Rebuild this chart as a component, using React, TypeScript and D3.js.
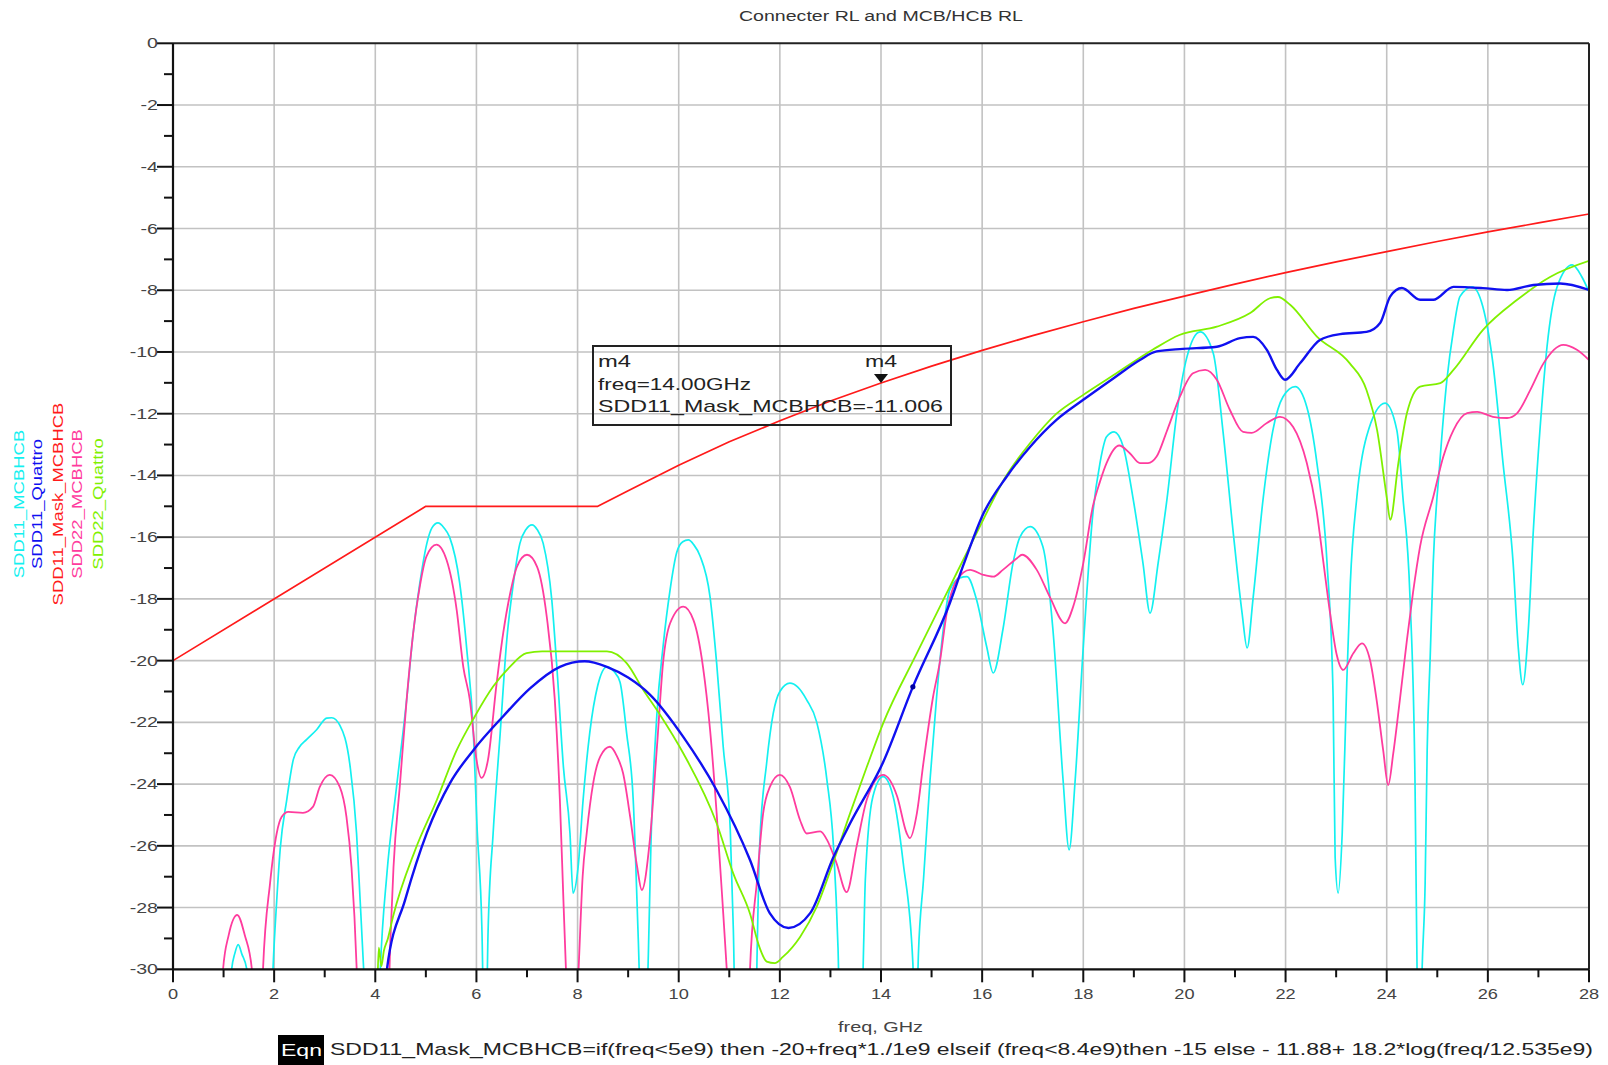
import React from 'react';
import * as d3 from 'd3';

type P = [number, number];

const X_TICKS = [0, 2, 4, 6, 8, 10, 12, 14, 16, 18, 20, 22, 24, 26, 28];
const Y_TICKS = [0, -2, -4, -6, -8, -10, -12, -14, -16, -18, -20, -22, -24, -26, -28, -30];

const TITLE = 'Connecter RL and MCB/HCB RL';
const X_LABEL = 'freq, GHz';
const EQN = 'SDD11_Mask_MCBHCB=if(freq<5e9) then -20+freq*1./1e9 elseif (freq<8.4e9)then -15 else - 11.88+ 18.2*log(freq/12.535e9)';

const SERIES_NAMES = ['SDD11_MCBHCB', 'SDD11_Quattro', 'SDD11_Mask_MCBHCB', 'SDD22_MCBHCB', 'SDD22_Quattro'];

const maskPts: P[] = [
  [0, -20], [5, -15], [8.4, -15], [9, -14.5], [10, -13.67], [11, -12.91], [12, -12.23],
  [13, -11.59], [14, -11.006], [15, -10.46], [16, -9.95], [17, -9.47], [18, -9.02], [19, -8.59],
  [20, -8.19], [21, -7.8], [22, -7.43], [23, -7.08], [24, -6.75], [25, -6.42], [26, -6.11], [27, -5.82], [28, -5.53],
];

const sdd11Mcb: P[] = [
  [1.05, -34], [1.16, -30], [1.22, -29.5], [1.29, -29.2], [1.36, -29.5], [1.46, -30], [1.6, -34],
  [1.9, -34], [1.98, -29.9], [2.05, -27.8], [2.12, -26.1], [2.25, -24.5], [2.38, -23.2], [2.5, -22.8],
  [2.64, -22.56], [2.84, -22.24], [3.04, -21.86], [3.14, -21.85], [3.3, -22.1], [3.5, -23.4], [3.63, -25.6],
  [3.7, -27.75], [3.77, -30], [3.9, -35],
  [4.02, -34], [4.1, -30], [4.23, -26.9], [4.42, -24.1], [4.62, -21.27], [4.75, -19.1], [4.88, -17.5],
  [5.02, -16.2], [5.12, -15.7], [5.24, -15.54], [5.36, -15.7], [5.47, -16.0], [5.67, -17.5], [5.81, -19.65],
  [5.94, -22.35], [6.01, -25.3], [6.11, -28.8], [6.17, -34], [6.23, -28.8], [6.33, -25.6], [6.47, -22.35],
  [6.6, -19.33], [6.73, -17.5], [6.86, -16.2], [6.98, -15.75], [7.1, -15.6], [7.2, -15.75], [7.32, -16.2],
  [7.49, -18.03], [7.59, -20.2], [7.72, -23.44], [7.85, -25.6], [7.91, -27.53], [8.01, -26.7], [8.11, -24.5],
  [8.24, -22.35], [8.4, -20.8], [8.58, -20.2], [8.72, -20.35], [8.84, -20.7], [8.97, -22.35], [9.1, -24.5],
  [9.2, -29], [9.3, -34], [9.4, -29.5], [9.45, -26], [9.57, -21.7], [9.69, -19.55], [9.83, -17.7],
  [9.96, -16.5], [10.08, -16.15], [10.19, -16.09], [10.3, -16.25], [10.42, -16.6], [10.62, -17.94],
  [10.75, -20.08], [10.88, -22.79], [11.02, -25.5], [11.08, -28.7], [11.15, -34],
  [11.5, -34], [11.55, -29.5], [11.6, -26.0], [11.74, -23.3], [11.87, -21.7], [12.0, -21.0], [12.2, -20.73],
  [12.35, -20.85], [12.53, -21.27], [12.73, -22.0], [12.93, -23.86], [13.06, -26.0], [13.15, -29.3], [13.22, -34],
  [13.58, -34], [13.66, -29], [13.69, -27.1], [13.84, -24.4], [14.04, -23.76], [14.24, -24.4], [14.44, -26.56],
  [14.63, -29.8], [14.68, -33], [14.74, -29.5], [14.84, -27.1], [14.97, -23.86], [15.1, -21.17], [15.23, -19.0],
  [15.36, -17.71], [15.56, -17.32], [15.7, -17.28], [15.89, -18.03], [16.09, -19.55], [16.22, -20.4],
  [16.41, -19.0], [16.61, -16.84], [16.75, -15.99], [16.95, -15.66], [17.2, -16.3], [17.4, -19.0],
  [17.6, -23.86], [17.72, -26.13], [17.84, -23.86], [18.0, -19.55], [18.19, -15.22], [18.33, -13.6],
  [18.46, -12.75], [18.61, -12.59], [18.79, -13.07], [18.98, -14.7], [19.18, -16.84], [19.32, -18.46],
  [19.48, -16.84], [19.66, -14.7], [19.85, -11.98], [20.05, -10.16], [20.31, -9.35], [20.57, -10.04],
  [20.76, -12.53], [20.96, -15.77], [21.14, -18.46], [21.24, -19.59], [21.36, -17.94], [21.56, -14.7],
  [21.75, -12.53], [21.95, -11.45], [22.19, -11.12], [22.42, -11.78], [22.62, -13.6], [22.82, -16.84],
  [22.94, -21.17], [22.98, -26.36], [23.04, -27.53], [23.12, -25.6], [23.21, -20.73], [23.28, -17.5],
  [23.41, -14.7], [23.6, -12.75], [23.97, -11.66], [24.2, -12.53], [24.32, -14.7], [24.46, -17.94],
  [24.56, -24], [24.6, -30], [24.65, -34], [24.7, -30], [24.76, -27.2], [24.8, -22.9], [24.86, -19.87],
  [24.92, -16.84], [25.05, -13.6], [25.19, -10.9], [25.32, -9.29], [25.45, -8.2], [25.69, -7.89],
  [25.9, -8.53], [26.1, -10.37], [26.3, -13.6], [26.5, -16.84], [26.6, -19.55], [26.69, -20.78],
  [26.8, -19.0], [26.9, -15.77], [27.03, -12.53], [27.17, -9.83], [27.37, -7.89], [27.67, -7.18],
  [27.86, -7.57], [28, -8.05],
];

const sdd11Quattro: P[] = [
  [4.15, -34], [4.23, -30], [4.59, -27.75], [5.02, -25.58], [5.48, -23.96], [5.94, -22.9], [6.53, -21.8],
  [7.06, -20.9], [7.65, -20.2], [8.14, -20.02], [8.58, -20.2], [9.0, -20.55], [9.43, -21.1], [10.09, -22.47],
  [10.75, -24.2], [11.41, -26.46], [11.8, -28.18], [12.17, -28.66], [12.6, -28.18], [13.06, -26.36],
  [13.39, -25.27], [14.04, -23.3], [14.63, -20.85], [15.36, -18.14], [15.63, -16.9], [16.03, -15.22],
  [16.48, -14.05], [16.95, -13.07], [17.47, -12.2], [18.0, -11.55], [18.6, -10.85], [19.12, -10.26],
  [19.45, -9.98], [19.97, -9.9], [20.64, -9.83], [21.1, -9.55], [21.36, -9.51], [21.63, -9.93],
  [21.83, -10.58], [21.99, -10.9], [22.29, -10.36], [22.68, -9.61], [23.08, -9.42], [23.6, -9.35],
  [23.87, -9.06], [24.07, -8.2], [24.3, -7.93], [24.66, -8.31], [24.92, -8.31], [25.32, -7.89],
  [25.9, -7.93], [26.38, -7.99], [26.9, -7.83], [27.43, -7.78], [28, -7.99],
];

const sdd22Mcb: P[] = [
  [0.9, -34], [0.99, -30], [1.1, -28.9], [1.27, -28.24], [1.42, -28.9], [1.56, -30], [1.65, -34],
  [1.7, -34], [1.78, -30], [1.92, -27.2], [2.05, -25.6], [2.15, -25.06], [2.28, -24.9], [2.57, -24.93],
  [2.77, -24.73], [2.9, -24.1], [3.1, -23.7], [3.3, -24.1], [3.43, -25.06], [3.53, -26.7], [3.63, -29.9], [3.7, -34],
  [4.2, -34], [4.3, -29], [4.36, -26.7], [4.49, -23.96], [4.62, -21.27], [4.75, -19.1], [4.88, -17.6],
  [5.01, -16.63], [5.21, -16.24], [5.41, -16.74], [5.61, -18.36], [5.74, -20.2], [5.87, -21.27], [6.0, -23.2],
  [6.1, -23.8], [6.23, -23.2], [6.4, -20.73], [6.53, -19.1], [6.67, -17.8], [6.8, -16.96], [7.0, -16.57],
  [7.2, -16.96], [7.39, -18.57], [7.55, -21.27], [7.65, -24.5], [7.72, -27.75], [7.77, -30], [7.9, -34],
  [8.02, -30], [8.1, -27], [8.18, -25.6], [8.31, -23.96], [8.45, -23.1], [8.64, -22.79], [8.78, -23.1],
  [8.9, -23.65], [9.04, -25.06], [9.18, -26.7], [9.27, -27.43], [9.43, -25.8], [9.57, -22.79], [9.69, -20.08],
  [9.83, -18.79], [10.09, -18.25], [10.29, -18.68], [10.48, -20.2], [10.62, -22.24], [10.75, -24.94],
  [10.88, -28.18], [10.95, -30], [11.1, -34], [11.35, -34], [11.41, -30], [11.55, -27.1], [11.67, -24.94],
  [11.8, -24.1], [12.0, -23.7], [12.2, -24.1], [12.4, -25.17], [12.53, -25.6], [12.8, -25.53], [12.93, -25.8],
  [13.12, -26.56], [13.32, -27.5], [13.52, -26.0], [13.72, -24.5], [14.04, -23.7], [14.32, -24.4],
  [14.51, -25.6], [14.57, -25.75], [14.71, -24.94], [14.84, -23.3], [15.03, -21.17], [15.16, -20.08],
  [15.3, -18.46], [15.5, -17.39], [15.76, -17.06], [16.02, -17.22], [16.22, -17.28], [16.41, -17.06],
  [16.69, -16.68], [16.79, -16.57], [17.08, -17.06], [17.34, -17.94], [17.64, -18.79], [17.8, -18.25],
  [18.0, -16.84], [18.19, -15.0], [18.33, -14.2], [18.46, -13.6], [18.71, -13.03], [18.92, -13.28],
  [19.12, -13.6], [19.28, -13.6], [19.45, -13.39], [19.66, -12.53], [19.91, -11.45], [20.17, -10.69],
  [20.41, -10.58], [20.64, -10.9], [20.9, -11.88], [21.16, -12.59], [21.33, -12.62], [21.63, -12.3],
  [21.89, -12.1], [22.15, -12.43], [22.42, -13.6], [22.62, -15.22], [22.75, -16.84], [22.88, -18.46],
  [23.01, -19.8], [23.14, -20.3], [23.34, -19.76], [23.51, -19.44], [23.67, -19.98], [23.8, -21.27],
  [23.93, -22.9], [24.03, -24.03], [24.13, -23.0], [24.26, -21.27], [24.4, -19.33], [24.52, -17.8],
  [24.66, -16.3], [24.92, -14.7], [25.12, -13.39], [25.32, -12.53], [25.59, -11.98], [25.79, -11.94],
  [26.1, -12.1], [26.38, -12.14], [26.58, -11.98], [26.84, -11.23], [27.1, -10.37], [27.49, -9.77],
  [27.76, -9.93], [28, -10.26],
];

const sdd22Quattro: P[] = [
  [4.02, -33], [4.07, -29.3], [4.12, -29.9], [4.17, -29.4], [4.25, -29.0], [4.35, -28.3], [4.79, -26.13],
  [5.22, -24.5], [5.61, -22.9], [5.97, -21.8], [6.33, -20.84], [6.66, -20.2], [6.99, -19.76], [7.3, -19.7],
  [8.0, -19.7], [8.58, -19.7], [8.97, -20.08], [9.3, -20.95], [9.63, -21.75], [10.09, -23.0], [10.75, -25.27],
  [11.08, -26.9], [11.41, -28.2], [11.6, -29.3], [11.74, -29.75], [11.9, -29.8], [12.06, -29.6], [12.4, -28.95],
  [12.73, -27.97], [13.05, -26.56], [13.39, -24.94], [13.72, -23.44], [14.04, -22.04], [14.71, -19.76],
  [15.36, -17.61], [15.89, -15.87], [16.48, -14.0], [16.95, -12.95], [17.47, -12.0], [18.0, -11.39],
  [18.6, -10.75], [19.37, -9.93], [19.9, -9.45], [20.64, -9.18], [21.3, -8.74], [21.69, -8.26], [21.85, -8.22],
  [22.09, -8.47], [22.62, -9.5], [23.27, -10.37], [23.6, -11.23], [23.81, -12.53], [24.0, -14.7], [24.07, -15.44],
  [24.23, -13.6], [24.4, -11.98], [24.66, -11.12], [25.06, -11.01], [25.32, -10.58], [25.9, -9.29],
  [26.58, -8.31], [27.23, -7.57], [28, -7.05],
];

const MARKER_FREQ = 14;
const MARKER_VAL = -11.006;

const FONT = '"Liberation Sans", Arial, Helvetica, sans-serif';

function ST(props: { x: number; y: number; text: string; size: number; anchor?: string; sx?: number; fill?: string; rot?: number }) {
  const { x, y, text, size, anchor = 'start', sx = 1.36, fill = '#444', rot = 0 } = props;
  return (
    <text
      transform={`translate(${x},${y}) rotate(${rot}) scale(${sx},1)`}
      textAnchor={anchor}
      fontFamily={FONT}
      fontSize={size}
      fill={fill}
    >
      {text}
    </text>
  );
}

export default function App() {
  const W = 1608, H = 1065;
  const L = 173, R = 1589, T = 43.3, B = 969.3;
  const x = d3.scaleLinear().domain([0, 28]).range([L, R]);
  const y = d3.scaleLinear().domain([-30, 0]).range([B, T]);
  const smooth = d3.line<P>().x(d => x(d[0])).y(d => y(d[1])).curve(d3.curveMonotoneX);
  const straight = d3.line<P>().x(d => x(d[0])).y(d => y(d[1])).curve(d3.curveLinear);

  const xMinor = d3.range(1, 28, 2);
  const yMinor = d3.range(-1, -30, -2);

  const series = [
    { name: SERIES_NAMES[0], pts: sdd11Mcb, color: '#14f0f0', w: 1.7, lx: 24 },
    { name: SERIES_NAMES[1], pts: sdd11Quattro, color: '#1010f0', w: 2.4, lx: 42 },
    { name: SERIES_NAMES[2], pts: maskPts, color: '#ff1a1a', w: 1.7, lx: 63 },
    { name: SERIES_NAMES[3], pts: sdd22Mcb, color: '#ff3c9e', w: 1.8, lx: 82 },
    { name: SERIES_NAMES[4], pts: sdd22Quattro, color: '#80f000', w: 1.8, lx: 103 },
  ];
  const drawOrder = [2, 0, 3, 4, 1];

  const mx = x(MARKER_FREQ), my = y(MARKER_VAL);

  return (
    <svg width={W} height={H} style={{ position: 'absolute', left: 0, top: 0, display: 'block', background: '#fff' }}>
      <defs>
        <clipPath id="plotclip">
          <rect x={L} y={T} width={R - L} height={B - T} />
        </clipPath>
      </defs>
      <rect x={0} y={0} width={W} height={H} fill="#fff" />

      {/* grid */}
      {X_TICKS.filter(t => t > 0 && t < 28).map(t => (
        <line key={'gx' + t} x1={x(t)} x2={x(t)} y1={T} y2={B} stroke="#c2c2c2" strokeWidth={1.6} />
      ))}
      {Y_TICKS.filter(t => t < 0 && t > -30).map(t => (
        <line key={'gy' + t} x1={L} x2={R} y1={y(t)} y2={y(t)} stroke="#c2c2c2" strokeWidth={1.6} />
      ))}

      {/* series */}
      <g clipPath="url(#plotclip)">
        {drawOrder.map(i => {
          const s = series[i];
          const d = i === 2 ? straight(s.pts) : smooth(s.pts);
          return <path key={s.name} d={d || ''} fill="none" stroke={s.color} strokeWidth={s.w} strokeLinejoin="round" />;
        })}
        <circle cx={x(14.63)} cy={y(-20.85)} r={2.6} fill="#0000a0" />
      </g>

      {/* frame */}
      <line x1={L} x2={R} y1={T} y2={T} stroke="#222" strokeWidth={2} />
      <line x1={R} x2={R} y1={T} y2={B} stroke="#222" strokeWidth={2} />
      <line x1={L} x2={L} y1={T} y2={B + 1} stroke="#111" strokeWidth={2.2} />
      <line x1={L - 1} x2={R} y1={B} y2={B} stroke="#111" strokeWidth={2.2} />

      {/* ticks */}
      {Y_TICKS.map(t => (
        <line key={'ty' + t} x1={L - 16} x2={L} y1={y(t)} y2={y(t)} stroke="#111" strokeWidth={2} />
      ))}
      {yMinor.map(t => (
        <line key={'tym' + t} x1={L - 9} x2={L} y1={y(t)} y2={y(t)} stroke="#111" strokeWidth={2} />
      ))}
      {X_TICKS.map(t => (
        <line key={'tx' + t} x1={x(t)} x2={x(t)} y1={B} y2={B + 13} stroke="#111" strokeWidth={2} />
      ))}
      {xMinor.map(t => (
        <line key={'txm' + t} x1={x(t)} x2={x(t)} y1={B} y2={B + 8} stroke="#111" strokeWidth={2} />
      ))}

      {/* tick labels */}
      {Y_TICKS.map(t => (
        <ST key={'ly' + t} x={L - 15} y={y(t) + 5} text={String(t)} size={14} anchor="end" sx={1.4} />
      ))}
      {X_TICKS.map(t => (
        <ST key={'lx' + t} x={x(t)} y={B + 30} text={String(t)} size={14} anchor="middle" sx={1.3} />
      ))}

      {/* title */}
      <text x={(L + R) / 2 - 142} y={21} fontFamily={FONT} fontSize={14} fill="#333" textLength={284} lengthAdjust="spacingAndGlyphs">{TITLE}</text>

      {/* x label */}
      <text x={838} y={1032} fontFamily={FONT} fontSize={14} fill="#444" textLength={85} lengthAdjust="spacingAndGlyphs">{X_LABEL}</text>

      {/* legend (rotated series names) */}
      {series.map(s => (
        <ST key={'leg' + s.name} x={s.lx} y={504} text={s.name} size={14} anchor="middle" sx={1.32} rot={-90} fill={s.color} />
      ))}

      {/* marker */}
      <rect x={593} y={346} width={358} height={79} fill="none" stroke="#222" strokeWidth={2} />
      <text x={598} y={367} fontFamily={FONT} fontSize={17} fill="#222" textLength={33} lengthAdjust="spacingAndGlyphs">m4</text>
      <text x={598} y={390} fontFamily={FONT} fontSize={17} fill="#222" textLength={153} lengthAdjust="spacingAndGlyphs">freq=14.00GHz</text>
      <text x={598} y={412} fontFamily={FONT} fontSize={17} fill="#222" textLength={345} lengthAdjust="spacingAndGlyphs">SDD11_Mask_MCBHCB=-11.006</text>
      <text x={865} y={367} fontFamily={FONT} fontSize={17} fill="#222" textLength={32} lengthAdjust="spacingAndGlyphs">m4</text>
      <path d={`M${mx - 7},${my - 9} L${mx + 7},${my - 9} L${mx},${my} Z`} fill="#111" />

      {/* equation */}
      <rect x={278} y={1035} width={46} height={30} fill="#000" />
      <text x={281} y={1056} fontFamily={FONT} fontSize={17} fill="#fff" textLength={41} lengthAdjust="spacingAndGlyphs">Eqn</text>
      <text x={330} y={1055} fontFamily={FONT} fontSize={17} fill="#222" textLength={1263} lengthAdjust="spacingAndGlyphs">{EQN}</text>
    </svg>
  );
}
